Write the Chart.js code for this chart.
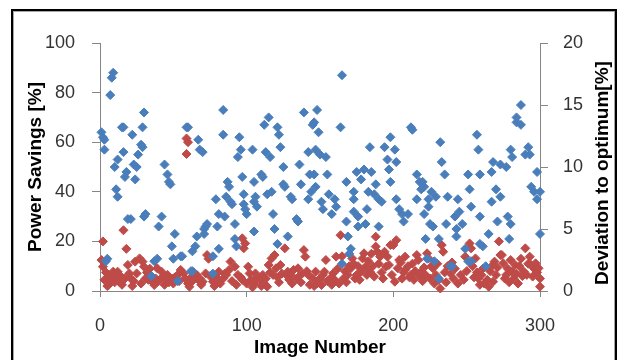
<!DOCTYPE html>
<html>
<head>
<meta charset="utf-8">
<script src="https://cdn.jsdelivr.net/npm/chart.js@4/dist/chart.umd.min.js"></script>
<style>
  html, body { margin: 0; padding: 0; background: #fff; overflow: hidden; }
  #wrap { position: relative; width: 618px; height: 360px; }
  #myChart { position: absolute; left: 0; top: 0; }
  #frame { position: absolute; left: 11px; top: 9px; width: 602px; height: 420px;
           border: 2px solid #000; pointer-events: none; }
  #frame div { position: absolute; left: 0; top: 0; right: 0; bottom: 0; border: 1px solid #a6a6a6; }
</style>
</head>
<body>
<div id="wrap">
  <canvas id="myChart" width="618" height="360"></canvas>
  <div id="frame"><div></div></div>
</div>
<script>
// tick labels
let xTicks = [0, 100, 200, 300];
let leftTicks = [0, 20, 40, 60, 80, 100];
let rightTicks = [0, 5, 10, 15, 20];

// Power Savings [%] (left axis): image number / value
let savingsImage = [1, 2, 3, 3, 4, 5, 7, 8, 9, 10, 11, 12, 12, 15, 16, 16, 17, 18, 19, 21,
    22, 23, 24, 25, 26, 28, 29, 29, 30, 30, 31, 35, 37, 39, 40, 42, 44, 46, 47, 48,
    49, 50, 51, 53, 55, 56, 59, 60, 62, 63, 63, 65, 66, 67, 68, 70, 71, 71, 72, 73,
    77, 77, 79, 80, 81, 81, 84, 84, 85, 86, 87, 88, 89, 90, 92, 92, 93, 94, 95, 96,
    97, 98, 98, 99, 100, 104, 105, 105, 105, 106, 107, 110, 111, 112, 113, 114, 115, 116, 117, 118,
    119, 121, 121, 122, 123, 125, 125, 126, 128, 130, 131, 134, 135, 136, 137, 139, 142, 142, 143, 144,
    145, 146, 146, 147, 147, 148, 149, 150, 151, 152, 154, 155, 156, 158, 160, 161, 164, 165, 165, 168,
    168, 169, 170, 171, 173, 173, 173, 175, 176, 176, 178, 180, 181, 182, 183, 184, 185, 187, 188, 190,
    190, 192, 194, 196, 197, 198, 198, 201, 202, 202, 204, 206, 207, 210, 212, 213, 216, 216, 218, 219,
    220, 221, 221, 222, 223, 224, 224, 225, 226, 227, 228, 229, 231, 231, 232, 233, 235, 236, 237, 239,
    240, 242, 243, 243, 244, 245, 247, 249, 251, 251, 252, 253, 253, 257, 258, 259, 259, 259, 261, 263,
    265, 267, 267, 268, 270, 271, 273, 273, 277, 278, 279, 280, 280, 281, 284, 284, 287, 287, 290, 292,
    293, 294, 296, 298, 298, 300, 300];
let savingsValue = [64, 62, 61, 57, 12, 13, 79, 86, 88, 50, 41, 38, 53, 66, 66, 56, 46, 48, 29, 29,
    63, 51, 45, 50, 55, 59, 58, 66, 72, 30, 31, 6, 12, 13, 26, 30, 51, 47, 44, 43,
    18, 13, 23, 4, 14, 14, 66, 66, 8, 8, 16, 18, 22, 61, 57, 56, 25, 23, 26, 27,
    14, 7, 37, 26, 31, 17, 63, 73, 30, 38, 44, 42, 36, 35, 27, 21, 18, 54, 62, 57,
    46, 39, 35, 33, 31, 57, 44, 36, 24, 38, 34, 47, 46, 67, 56, 39, 70, 54, 40, 31,
    25, 66, 19, 63, 58, 43, 50, 42, 22, 38, 37, 29, 28, 51, 43, 72, 56, 37, 47, 40,
    67, 68, 47, 57, 42, 73, 64, 55, 36, 33, 54, 47, 39, 31, 37, 34, 66, 11, 87, 28,
    44, 22, 15, 17, 40, 32, 37, 48, 30, 26, 45, 49, 27, 33, 40, 58, 48, 39, 43, 37,
    26, 36, 58, 53, 49, 44, 62, 57, 52, 37, 33, 31, 28, 31, 66, 65, 47, 37, 44, 41,
    44, 31, 42, 21, 13, 34, 37, 27, 40, 26, 12, 38, 21, 5, 60, 52, 47, 27, 38, 10,
    10, 30, 25, 22, 37, 32, 27, 17, 47, 12, 41, 34, 12, 63, 57, 47, 30, 19, 18, 10,
    23, 48, 36, 52, 41, 28, 38, 51, 50, 30, 21, 27, 57, 54, 70, 68, 75, 67, 55, 58,
    55, 42, 40, 48, 37, 23, 40];

// Deviation to optimum [%] (right axis): image number / value
let deviationImage = [1, 2, 2, 3, 4, 5, 6, 6, 7, 8, 9, 10, 11, 12, 13, 14, 15, 16, 17, 18,
    19, 20, 21, 22, 23, 24, 25, 27, 28, 29, 30, 31, 32, 33, 34, 35, 36, 37, 38, 39,
    40, 42, 43, 44, 45, 46, 47, 49, 50, 51, 53, 54, 55, 57, 58, 59, 60, 59, 60, 61,
    62, 63, 64, 66, 67, 68, 69, 70, 72, 73, 74, 75, 77, 78, 79, 80, 81, 82, 84, 85,
    86, 88, 89, 90, 92, 93, 94, 96, 97, 97, 98, 99, 100, 101, 102, 103, 104, 105, 106, 107,
    109, 110, 111, 112, 113, 114, 115, 116, 117, 118, 119, 120, 121, 122, 123, 124, 126, 127, 128, 129,
    130, 131, 132, 134, 135, 136, 137, 138, 139, 140, 141, 142, 143, 145, 146, 147, 148, 149, 150, 151,
    152, 153, 154, 155, 157, 158, 159, 160, 161, 162, 163, 164, 165, 166, 167, 168, 169, 170, 171, 172,
    173, 174, 175, 176, 177, 178, 179, 180, 181, 182, 183, 184, 185, 186, 187, 188, 188, 189, 190, 191,
    192, 193, 194, 195, 196, 197, 198, 199, 200, 201, 202, 203, 204, 205, 206, 207, 208, 208, 210, 211,
    212, 213, 214, 215, 216, 217, 218, 219, 220, 221, 222, 223, 224, 225, 226, 227, 228, 229, 230, 231,
    232, 233, 234, 235, 236, 237, 239, 240, 241, 242, 244, 246, 248, 249, 250, 252, 253, 254, 255, 256,
    257, 258, 259, 260, 261, 262, 264, 265, 266, 267, 268, 269, 270, 271, 272, 273, 274, 275, 276, 277,
    278, 279, 280, 281, 282, 283, 284, 285, 286, 287, 288, 289, 290, 291, 292, 293, 294, 295, 296, 297,
    298, 299, 300, 300];
let deviationValue = [2.5, 4.0, 1.96, 0.9, 1.5, 0.4, 1.3, 0.5, 0.8, 1.1, 1.56, 0.7, 1.16, 1.56, 0.75, 1.2, 0.5, 4.9, 1.0, 3.4,
    2.1, 1.42, 1.0, 0.4, 0.8, 2.37, 1.42, 2.63, 0.6, 2.37, 1.96, 1.0, 1.5, 0.9, 1.8, 1.2, 0.7, 0.48, 1.0, 1.83,
    0.8, 1.56, 1.16, 0.5, 0.9, 1.3, 0.7, 1.0, 0.6, 1.1, 1.3, 0.8, 1.7, 1.42, 1.0, 12.3, 12.0, 11.05, 0.6, 0.35,
    1.1, 0.8, 1.5, 1.3, 0.9, 1.0, 0.5, 0.75, 1.42, 2.9, 2.6, 1.2, 0.75, 0.4, 1.16, 0.9, 1.56, 0.6, 1.0, 1.4,
    1.3, 1.7, 2.37, 0.8, 1.96, 0.5, 1.3, 1.1, 4.25, 0.9, 3.44, 3.84, 0.6, 1.96, 1.42, 0.9, 0.3, 0.6, 1.42, 1.1,
    0.9, 0.4, 1.3, 0.6, 1.0, 0.35, 2.1, 1.5, 2.63, 1.3, 2.9, 1.83, 1.1, 0.7, 2.1, 1.4, 3.44, 1.3, 1.56, 0.9,
    1.3, 0.6, 1.7, 1.0, 1.83, 1.2, 0.7, 1.42, 3.3, 2.77, 1.6, 1.3, 0.5, 1.0, 0.4, 1.56, 0.6, 0.9, 1.0, 0.48,
    1.3, 1.56, 2.5, 0.8, 1.0, 0.5, 1.42, 0.9, 2.77, 1.8, 0.6, 4.5, 2.8, 1.0, 1.6, 0.7, 1.3, 2.0, 1.83, 2.63,
    2.2, 1.0, 1.3, 2.0, 0.9, 1.56, 2.63, 3.04, 1.96, 1.3, 2.4, 1.56, 3.0, 2.0, 1.16, 4.38, 3.58, 3.17, 2.2, 2.77,
    1.5, 1.0, 3.17, 1.96, 2.77, 2.1, 3.7, 1.3, 3.7, 0.75, 4.1, 1.83, 2.5, 2.3, 1.0, 1.5, 2.77, 1.7, 2.0, 1.1,
    1.3, 2.2, 0.9, 1.6, 2.9, 2.5, 1.2, 1.56, 0.8, 1.9, 1.3, 3.04, 2.63, 1.0, 2.0, 1.83, 0.6, 1.3, 2.2, 0.9,
    0.2, 3.7, 3.17, 1.5, 0.7, 2.0, 1.42, 2.3, 1.0, 1.8, 0.6, 1.3, 0.9, 2.77, 1.6, 3.84, 3.44, 2.0, 1.1, 2.63,
    1.5, 1.0, 0.5, 1.3, 1.8, 0.6, 0.9, 0.35, 1.6, 2.0, 0.75, 2.37, 1.3, 1.9, 4.0, 2.9, 2.9, 2.23, 1.0, 1.3,
    1.8, 0.7, 2.5, 1.56, 1.0, 2.1, 1.4, 0.6, 2.0, 2.6, 1.2, 1.56, 3.44, 1.3, 2.2, 2.77, 2.1, 1.16, 1.8, 2.23,
    1.5, 1.83, 1.0, 0.35];

function toPoints(xs, ys) {
    return xs.map((x, i) => ({ x: x, y: ys[i] }));
}

const FONT = '"Liberation Sans", Arial, sans-serif';
const AXIS = '#868686';

// right-hand title reads bottom to top, like the left one
const rightTitle = {
    id: 'rightTitle',
    afterDraw(chart) {
        let c = chart.ctx;
        c.save();
        c.translate(603, 173);
        c.rotate(-Math.PI / 2);
        c.font = 'bold 19px ' + FONT;
        c.fillStyle = '#000';
        c.textAlign = 'center';
        c.textBaseline = 'middle';
        c.fillText('Deviation to optimum[%]', 0, 0);
        c.restore();
    }
};

function tickOpts(values, pad) {
    return {
        color: '#333',
        font: { family: FONT, size: 18 },
        padding: pad,
        autoSkip: false
    };
}

let ctx = document.getElementById('myChart').getContext('2d');
let myChart = new Chart(ctx, {
    type: 'scatter',
    data: {
        datasets: [{
            label: 'Power Savings',
            data: toPoints(savingsImage, savingsValue),
            yAxisID: 'y',
            backgroundColor: '#4A7EBB',
            borderColor: '#4A7EBB',
            borderWidth: 1,
            pointStyle: 'rectRot',
            pointRadius: 4.5,
            clip: false
        }, {
            label: 'Deviation',
            data: toPoints(deviationImage, deviationValue),
            yAxisID: 'y2',
            backgroundColor: '#BE4B48',
            borderColor: '#BE4B48',
            borderWidth: 1,
            pointStyle: 'rectRot',
            pointRadius: 4.5,
            clip: false
        }]
    },
    options: {
        responsive: false,
        animation: false,
        layout: { padding: { left: 20, right: 6, top: 43, bottom: 0 } },
        plugins: { legend: { display: false }, tooltip: { enabled: false } },
        scales: {
            x: {
                type: 'linear',
                min: 0, max: 300,
                afterBuildTicks: (s) => { s.ticks = xTicks.map(v => ({ value: v })); },
                afterFit: (s) => { s.height = 69; },
                grid: { drawOnChartArea: false, color: AXIS, tickLength: 6 },
                border: { color: AXIS, width: 1 },
                ticks: tickOpts(xTicks, 18),
                title: { display: true, text: 'Image Number', color: '#000',
                         font: { family: FONT, size: 19, weight: 'bold' }, padding: { top: 0, bottom: 1 } }
            },
            y: {
                position: 'left',
                min: 0, max: 100,
                afterBuildTicks: (s) => { s.ticks = leftTicks.map(v => ({ value: v })); },
                afterFit: (s) => { s.width = 80; },
                grid: { drawOnChartArea: false, color: AXIS, tickLength: 8 },
                border: { color: AXIS, width: 1 },
                ticks: tickOpts(leftTicks, 17),
                title: { display: true, text: 'Power Savings [%]', color: '#000',
                         font: { family: FONT, size: 19, weight: 'bold' }, padding: { top: 4, bottom: 0 } }
            },
            y2: {
                position: 'right',
                min: 0, max: 20,
                afterBuildTicks: (s) => { s.ticks = rightTicks.map(v => ({ value: v })); },
                afterFit: (s) => { s.width = 72; },
                grid: { drawOnChartArea: false, color: AXIS, tickLength: 8 },
                border: { color: AXIS, width: 1 },
                ticks: tickOpts(rightTicks, 15)
            }
        }
    },
    plugins: [rightTitle]
});
</script>
</body>
</html>
